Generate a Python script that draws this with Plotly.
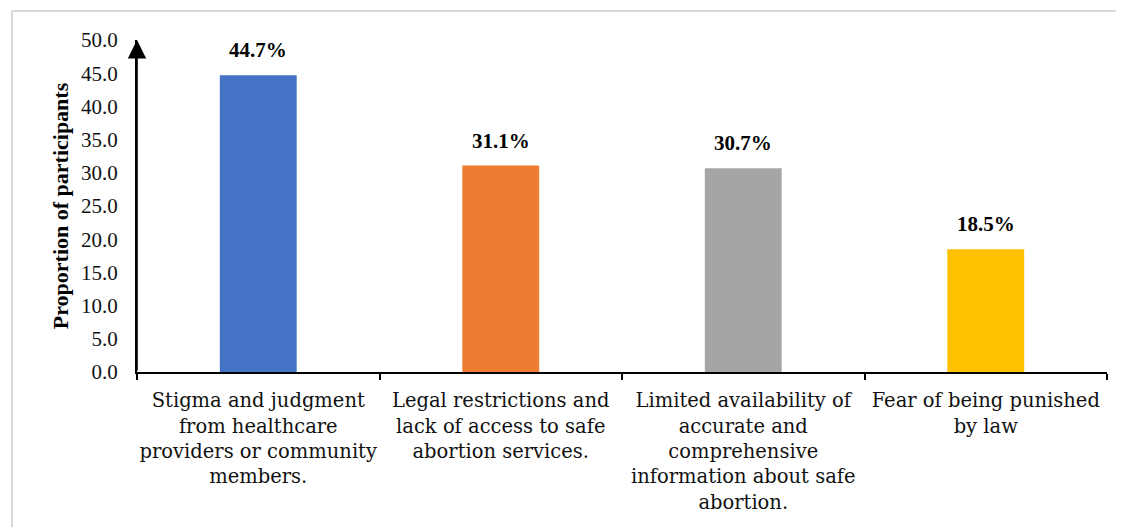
import plotly.graph_objects as go

categories = [
    "Stigma and judgment<br>from healthcare<br>providers or community<br>members.",
    "Legal restrictions and<br>lack of access to safe<br>abortion services.",
    "Limited availability of<br>accurate and<br>comprehensive<br>information about safe<br>abortion.",
    "Fear of being punished<br>by law",
]
values = [44.7, 31.1, 30.7, 18.5]
value_labels = ["44.7%", "31.1%", "30.7%", "18.5%"]
colors = ["#4472C4", "#ED7D31", "#A5A5A5", "#FFC000"]
y_ticks = [0, 5, 10, 15, 20, 25, 30, 35, 40, 45, 50]

FONT = "Liberation Serif"
CAT_FONT = "DejaVu Serif"

fig = go.Figure()
fig.add_trace(go.Bar(x=categories, y=values, marker=dict(color=colors, line=dict(width=0)),
                     width=0.317, hoverinfo="skip"))

for c, v, t in zip(categories, values, value_labels):
    fig.add_annotation(x=c, y=v, text="<b>" + t + "</b>", showarrow=False,
                       yanchor="bottom", yshift=11,
                       font=dict(family=FONT, size=21, color="#000000"))

# arrow at top of y-axis
fig.add_annotation(x=-0.5, y=y_ticks[-1], ax=-0.5, ay=y_ticks[0], xref="x", yref="y",
                   axref="x", ayref="y", showarrow=True, arrowhead=2, arrowsize=2.3,
                   arrowwidth=1.6, arrowcolor="#000000", text="")

fig.update_layout(
    width=1124, height=527,
    margin=dict(l=129, r=25, t=32, b=163),
    paper_bgcolor="white", plot_bgcolor="white",
    showlegend=False,
    font=dict(family=FONT, size=20, color="#000000"),
    shapes=[
        dict(type="line", xref="paper", yref="paper", x0=-0.1289, x1=1.1, y0=1.0873, y1=1.0873,
             line=dict(color="#D9D9D9", width=2)),
        dict(type="line", xref="paper", yref="paper", x0=-0.1289, x1=-0.1289, y0=1.0873, y1=-0.5,
             line=dict(color="#D9D9D9", width=2)),
    ],
)
fig.update_xaxes(
    range=[-0.5, 3.5], showline=True, linecolor="#000000", linewidth=2,
    ticks="outside", tickson="boundaries", ticklen=6, tickwidth=2, tickcolor="#000000",
    tickfont=dict(family=CAT_FONT, size=19.5, color="#111111"), ticklabelstandoff=10,
    showgrid=False, zeroline=False, tickangle=0,
)
fig.update_yaxes(
    range=[0, 50], tickvals=y_ticks, tickformat=".1f",
    showline=True, linecolor="#000000", linewidth=2, ticks="",
    tickfont=dict(family=FONT, size=21, color="#111111"), ticklabelstandoff=13,
    showgrid=False, zeroline=False,
    title=dict(text="<b>Proportion of participants</b>", font=dict(family=FONT, size=22, color="#000000"),
               standoff=6),
)

fig.write_html("out.html")
